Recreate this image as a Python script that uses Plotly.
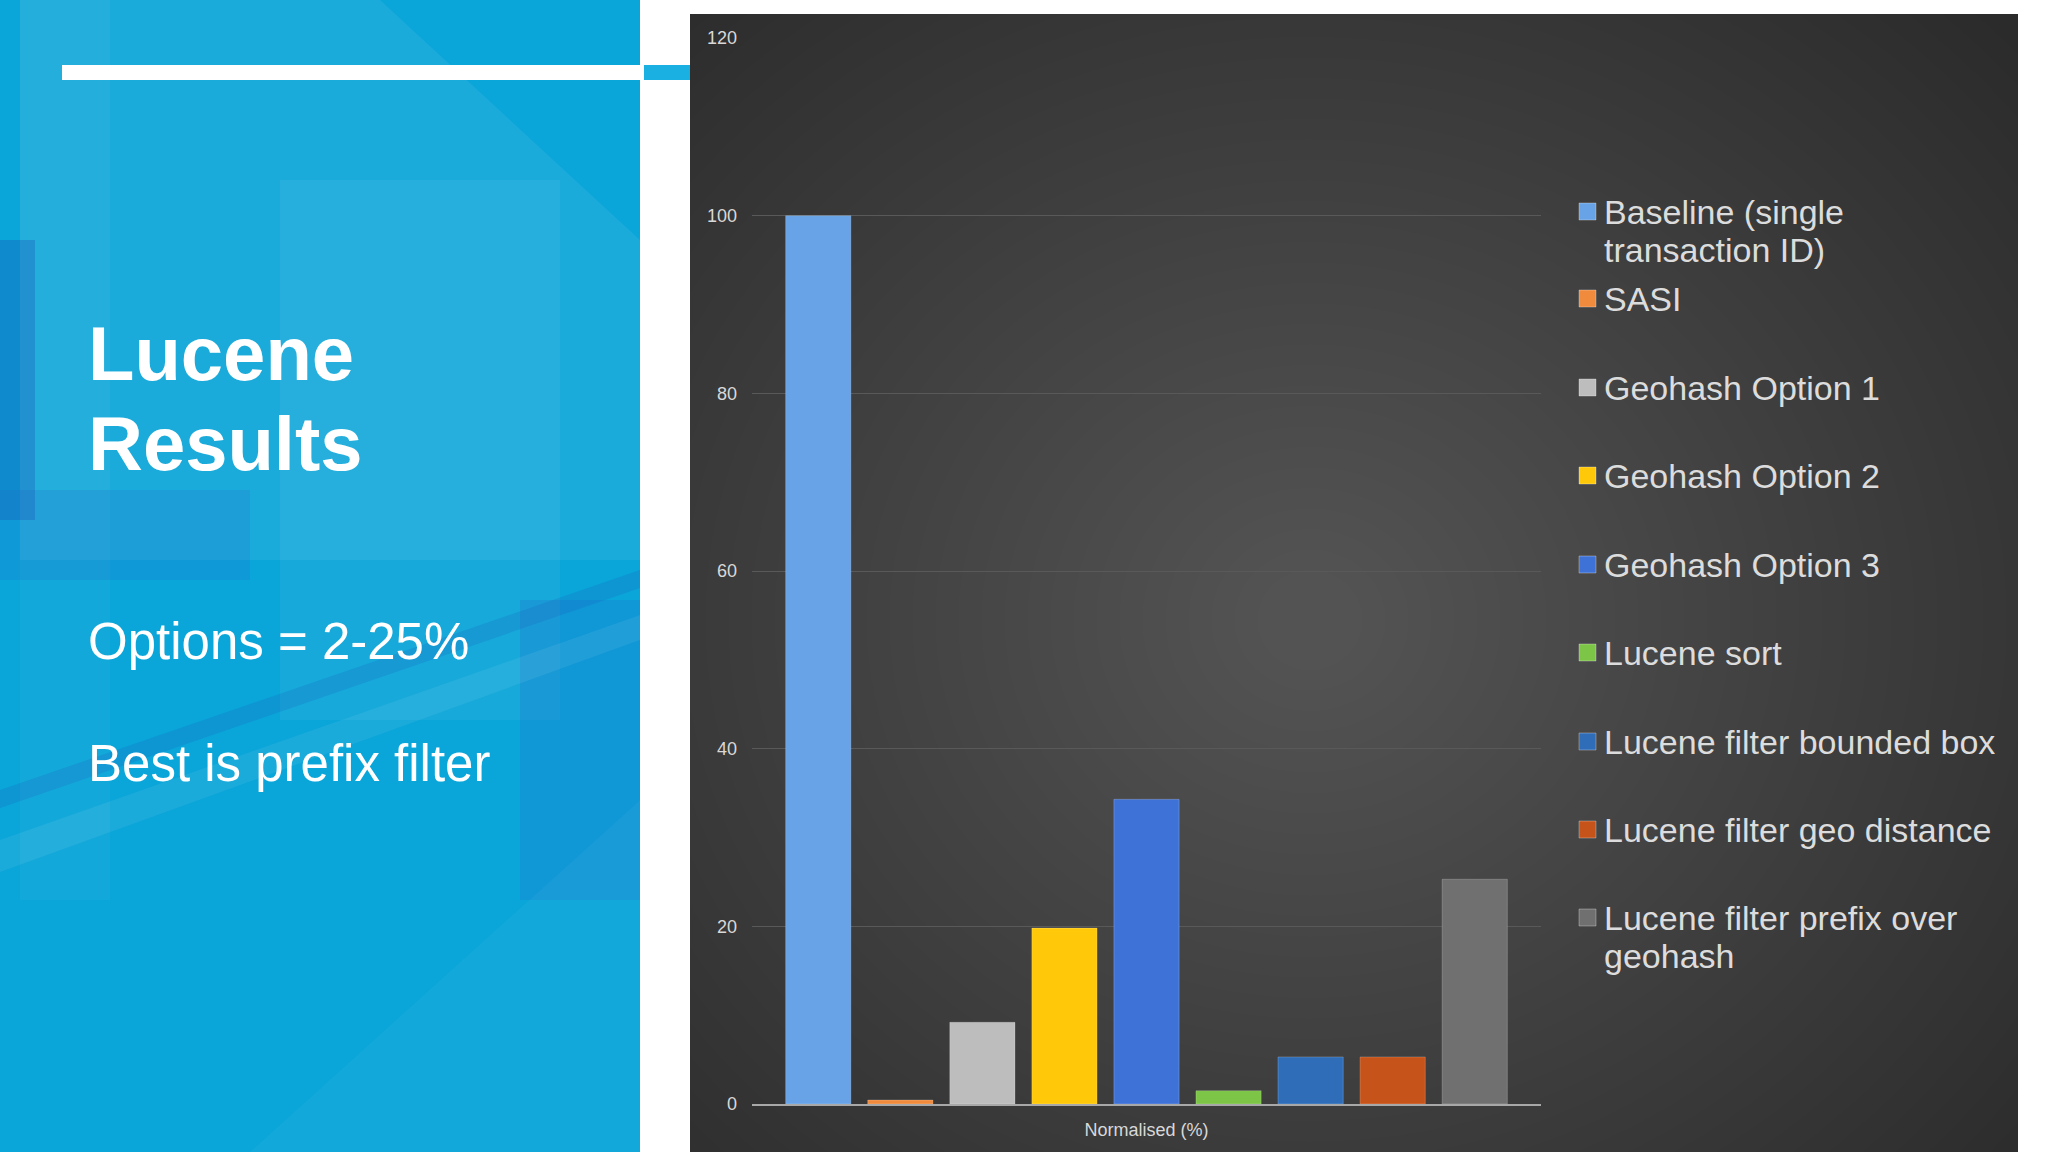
import plotly.graph_objects as go

categories = ["Normalised (%)"]
series_names = [
    "Baseline (single<br>transaction ID)",
    "SASI",
    "Geohash Option 1",
    "Geohash Option 2",
    "Geohash Option 3",
    "Lucene sort",
    "Lucene filter bounded box",
    "Lucene filter geo distance",
    "Lucene filter prefix over<br>geohash",
]
series_values = [100, 0.45, 9.2, 19.8, 34.3, 1.5, 5.3, 5.3, 25.3]
series_colors = ["#67a3e6", "#f08a3c", "#bdbdbd", "#ffc90a", "#3f72d6",
                 "#7cc546", "#2f6db8", "#c6541a", "#707070"]
y_ticks = [0, 20, 40, 60, 80, 100, 120]

title_lines = ["Lucene", "Results"]
bullet_lines = ["Options = 2-25%", "Best is prefix filter"]

FONT = "Liberation Sans, Arial, sans-serif"
W, H = 2048, 1152
L, R, T, B = 752, 507, 38, 48
PW = W - L - R
PH = H - T - B


def px(x):
    return (x - L) / PW


def py(y):
    return (H - B - y) / PH


def rect(x0, y0, x1, y1, color, kind="rect"):
    return dict(type=kind, xref="paper", yref="paper", layer="below",
                x0=px(x0), x1=px(x1), y0=py(y0), y1=py(y1),
                fillcolor=color, line=dict(width=0))


def poly(points, color):
    d = "M " + " L ".join("%f,%f" % (px(x), py(y)) for x, y in points) + " Z"
    return dict(type="path", xref="paper", yref="paper", layer="below",
                path=d, fillcolor=color, line=dict(width=0))


fig = go.Figure()
for name, val, col in zip(series_names, series_values, series_colors):
    fig.add_trace(go.Bar(x=categories, y=[val], name=name.replace("<br>", " "),
                         marker=dict(color=col, line=dict(color="rgba(255,255,255,0.2)", width=1))))

shapes = []
# dark chart panel with a soft radial glow
shapes.append(rect(690, 14, 2018, 1152, "#2b2b2b"))
cx, cy = 1310, 620
for i in range(40):
    rx = 950 - i * 23
    ry = 850 - i * 20.5
    shapes.append(rect(cx - rx, cy - ry, cx + rx, cy + ry, "rgba(255,255,255,0.0068)", kind="circle"))
# white page around panel
shapes.append(rect(640, -5, 2060, 14, "white"))
shapes.append(rect(2018, -5, 2060, 1160, "white"))
shapes.append(rect(640, -5, 690, 1160, "white"))
# left blue panel
shapes.append(rect(-5, -5, 640, 1160, "#0aa5d9"))
shapes.append(poly([(20, 0), (380, 0), (640, 240), (640, 560), (20, 560)], "rgba(255,255,255,0.07)"))
shapes.append(rect(280, 180, 560, 720, "rgba(255,255,255,0.05)"))
shapes.append(rect(20, 0, 110, 900, "rgba(255,255,255,0.04)"))
shapes.append(rect(0, 240, 35, 520, "rgba(30,80,180,0.3)"))
shapes.append(rect(0, 490, 250, 580, "rgba(40,100,200,0.18)"))
shapes.append(rect(520, 600, 640, 900, "rgba(40,90,200,0.18)"))
shapes.append(poly([(0, 790), (640, 570), (640, 588), (0, 808)], "rgba(30,90,190,0.2)"))
shapes.append(poly([(0, 840), (640, 615), (640, 640), (0, 872)], "rgba(255,255,255,0.07)"))
shapes.append(poly([(250, 1152), (640, 800), (640, 1152)], "rgba(255,255,255,0.04)"))
# header rule
shapes.append(rect(62, 65, 640, 80, "white"))
shapes.append(rect(644, 65, 690, 80, "#1ab0e2"))

annotations = []
for i, t in enumerate(title_lines):
    annotations.append(dict(xref="paper", yref="paper", x=px(86), y=py(353 + i * 91),
                            xanchor="left", yanchor="middle", showarrow=False,
                            text="<b>%s</b>" % t, font=dict(family=FONT, size=76, color="white")))
for t, yy in zip(bullet_lines, [641, 763]):
    annotations.append(dict(xref="paper", yref="paper", x=px(86), y=py(yy),
                            xanchor="left", yanchor="middle", showarrow=False,
                            text=t, font=dict(family=FONT, size=51, color="white")))

# legend drawn as text beside small swatches
legend_y = [211, 298, 387, 475, 564, 652, 741, 829, 917]
for name, col, yy in zip(series_names, series_colors, legend_y):
    shapes.append(dict(type="rect", xref="paper", yref="paper", layer="above",
                       x0=px(1579), x1=px(1596), y0=py(yy - 8), y1=py(yy + 9),
                       fillcolor=col, line=dict(color="rgba(255,255,255,0.3)", width=1)))
    for j, line in enumerate(name.split("<br>")):
        annotations.append(dict(xref="paper", yref="paper", x=px(1602), y=py(yy + 1 + j * 38),
                                xanchor="left", yanchor="middle", showarrow=False,
                                text=line, font=dict(family=FONT, size=34, color="#dcdcdc")))

fig.update_layout(
    width=W, height=H,
    margin=dict(l=L, r=R, t=T, b=B, pad=0),
    paper_bgcolor="white", plot_bgcolor="rgba(0,0,0,0)",
    barmode="group", bargap=0.064, bargroupgap=0.205,
    showlegend=False,
    shapes=shapes, annotations=annotations,
    font=dict(family=FONT, color="#d8d8d8", size=18),
)
fig.update_xaxes(showline=True, linecolor="#a8a8a8", linewidth=2, showgrid=False,
                 ticks="", tickfont=dict(size=18, color="#d8d8d8"), ticklabelstandoff=8)
fig.update_yaxes(range=[0, 120], tickvals=y_ticks, showgrid=True, gridcolor="#595959",
                 gridwidth=1, zeroline=False, showline=False, ticks="",
                 tickfont=dict(size=18, color="#d8d8d8"), ticklabelstandoff=14)

fig.write_html("out.html", config=dict(displayModeBar=False),
               post_script="document.body.style.margin='0';document.body.style.overflow='hidden';")
